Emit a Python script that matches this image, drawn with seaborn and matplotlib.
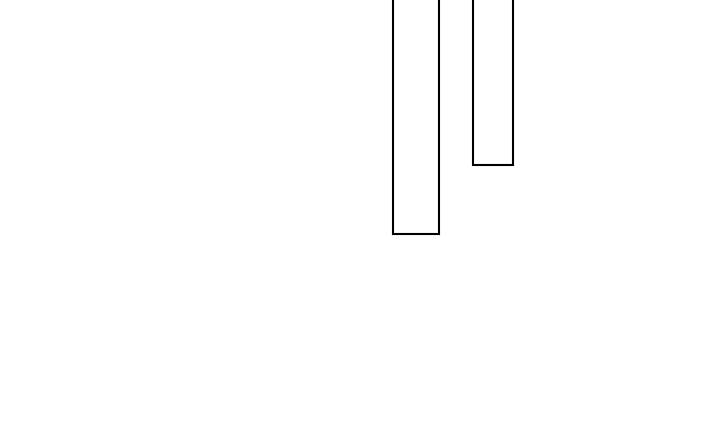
import pandas as pd
import matplotlib
matplotlib.use("Agg")
import matplotlib.pyplot as plt
import seaborn as sns

# Données (unités = pixels de l'image de référence)
positions = [415.8, 493.0]
profondeurs = [237, 168.3]
largeurs = [46, 39.7]

df = pd.DataFrame({"position": positions, "profondeur": profondeurs})

sns.set_style("white")

fig = plt.figure(figsize=(7.2, 4.42), dpi=100)
ax = fig.add_axes([0, 0, 1, 1])

sns.barplot(data=df, x="position", y="profondeur", native_scale=True,
            fill=False, color="black", linewidth=1.5, ax=ax)

# largeurs différentes pour chaque barre
for patch, pos, larg in zip(ax.patches, positions, largeurs):
    patch.set_x(pos - larg / 2)
    patch.set_width(larg)
    patch.set_edgecolor("black")

ax.set_xlim(0, 720)
ax.set_ylim(445, 3)
ax.axis("off")

plt.savefig("out.png", dpi=100, facecolor="white")
